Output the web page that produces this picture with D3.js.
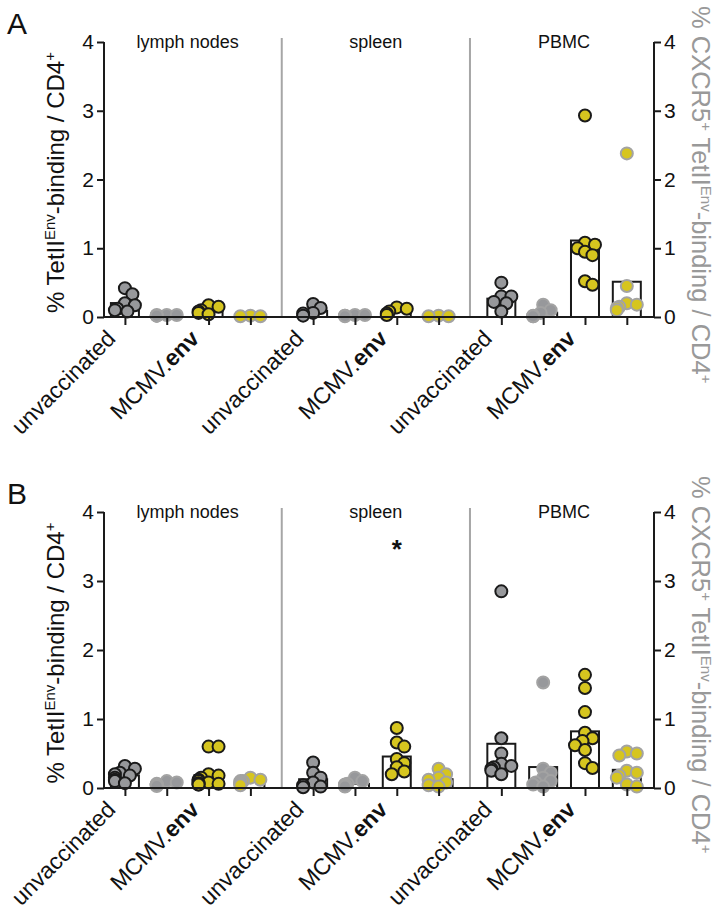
<!DOCTYPE html>
<html><head><meta charset="utf-8">
<script src="https://cdn.jsdelivr.net/npm/d3@7"></script>
<style>body{margin:0;background:#fff} text{font-family:"Liberation Sans",Arial,Helvetica,sans-serif}</style>
</head><body><svg id="c" width="714" height="913"></svg>
<script>
// ---------- data ----------
const tissues = ["lymph nodes", "spleen", "PBMC"];
const groupLabels = ["unvaccinated", "MCMV.env"];
const yTicks = [0, 1, 2, 3, 4];
const yDomain = [0, 4];

// Panel A  (order per tissue: unvaccinated, unvaccinated CXCR5+, MCMV.env, MCMV.env CXCR5+)
const A_ln_unvac   = [0.42, 0.33, 0.2, 0.17, 0.12, 0.1, 0.08];
const A_ln_unvacCX = [0.03, 0.02, 0.03, 0.02, 0.02, 0.03];
const A_ln_env     = [0.17, 0.15, 0.1, 0.06, 0.04, 0.08];
const A_ln_envCX   = [0.01, 0.02, 0.01];
const A_sp_unvac   = [0.19, 0.13, 0.06, 0.02, 0.05];
const A_sp_unvacCX = [0.03, 0.02, 0.01, 0.02, 0.03];
const A_sp_env     = [0.14, 0.12, 0.08, 0.05, 0.03];
const A_sp_envCX   = [0.01, 0.01, 0.02];
const A_pb_unvac   = [0.5, 0.3, 0.3, 0.22, 0.2, 0.08];
const A_pb_unvacCX = [0.18, 0.1, 0.06, 0.02, 0.01, 0.01];
const A_pb_env     = [2.93, 1.08, 1.05, 1.0, 0.95, 0.9, 0.52, 0.47];
const A_pb_envCX   = [2.38, 0.45, 0.2, 0.18, 0.15, 0.13, 0.1];

// Panel B
const B_ln_unvac   = [0.32, 0.28, 0.22, 0.2, 0.18, 0.15, 0.12, 0.1, 0.07];
const B_ln_unvacCX = [0.1, 0.08, 0.05, 0.04, 0.06, 0.03, 0.05, 0.04];
const B_ln_env     = [0.6, 0.6, 0.2, 0.18, 0.15, 0.12, 0.1, 0.08, 0.07, 0.06, 0.05, 0.05];
const B_ln_envCX   = [0.15, 0.12, 0.1, 0.08, 0.06, 0.05, 0.04, 0.1, 0.07];
const B_sp_unvac   = [0.37, 0.22, 0.15, 0.08, 0.04, 0.02, 0.01];
const B_sp_unvacCX = [0.15, 0.1, 0.06, 0.04, 0.03, 0.05, 0.02, 0.03];
const B_sp_env     = [0.87, 0.66, 0.6, 0.42, 0.36, 0.3, 0.24, 0.2];
const B_sp_envCX   = [0.28, 0.2, 0.15, 0.12, 0.08, 0.04, 0.02];
const B_pb_unvac   = [2.85, 0.72, 0.5, 0.35, 0.32, 0.3, 0.28, 0.25, 0.2];
const B_pb_unvacCX = [1.53, 0.28, 0.22, 0.15, 0.1, 0.08, 0.05, 0.02];
const B_pb_env     = [1.64, 1.45, 1.1, 0.8, 0.72, 0.68, 0.62, 0.55, 0.36, 0.29];
const B_pb_envCX   = [0.53, 0.5, 0.47, 0.25, 0.22, 0.15, 0.05, 0.02, 0.18];

const panelA = [[A_ln_unvac, A_ln_unvacCX, A_ln_env, A_ln_envCX],
                [A_sp_unvac, A_sp_unvacCX, A_sp_env, A_sp_envCX],
                [A_pb_unvac, A_pb_unvacCX, A_pb_env, A_pb_envCX]];
const panelB = [[B_ln_unvac, B_ln_unvacCX, B_ln_env, B_ln_envCX],
                [B_sp_unvac, B_sp_unvacCX, B_sp_env, B_sp_envCX],
                [B_pb_unvac, B_pb_unvacCX, B_pb_env, B_pb_envCX]];

// ---------- styles ----------
const GRAY = "#97989b", YEL = "#d6c51f", DARK = "#1a1a1a", LGRAY = "#a3a3a3";
const seriesStyle = [
  {fill: GRAY, stroke: DARK, axis: "L"},
  {fill: GRAY, stroke: LGRAY, axis: "R"},
  {fill: YEL,  stroke: DARK, axis: "L"},
  {fill: YEL,  stroke: LGRAY, axis: "R"}
];

const svg = d3.select("#c");
const xLeft = 104, xRight = 654;
const x = d3.scaleLinear().domain([-0.5, 12.65]).range([xLeft, xRight]);
const slot = (t, k) => t * 4.5 + k;
const R = 6;

function swarm(vals, cx, y) {
  const placed = [];
  const order = vals.map((v, i) => ({v, i})).sort((a, b) => b.v - a.v);
  const minD = 8;
  order.forEach(o => {
    const py = y(o.v);
    let best = 0;
    const cands = [0];
    for (let s = 2.5; s <= 12; s += 2.5) { cands.push(s, -s); }
    for (const c of cands) {
      best = c;
      if (placed.every(p => Math.hypot(p.x - (cx + c), p.y - py) >= minD)) break;
    }
    placed.push({x: cx + best, y: py, v: o.v});
  });
  return placed;
}

function drawPanel(data, top, bottom, letter, star) {
  const g = svg.append("g");
  const yL = d3.scaleLinear().domain(yDomain).range([bottom, top]);
  const yR = d3.scaleLinear().domain(yDomain).range([bottom, top]);

  // panel letter
  g.append("text").attr("x", 7).attr("y", top - 8).attr("font-size", 30).attr("fill", "#111").text(letter);

  // dividers
  [0, 1].forEach(t => {
    const xd = (x(slot(t, 3)) + x(slot(t + 1, 0))) / 2;
    g.append("line").attr("x1", xd).attr("x2", xd).attr("y1", top - 4).attr("y2", bottom)
      .attr("stroke", "#a6a6a6").attr("stroke-width", 2);
  });

  // section titles
  tissues.forEach((name, t) => {
    g.append("text").attr("x", x(slot(t, 1.5))).attr("y", top + 6)
      .attr("text-anchor", "middle").attr("font-size", 18).attr("fill", "#111").text(name);
  });

  // bars
  data.forEach((ser, t) => {
    ser.forEach((vals, k) => {
      const st = seriesStyle[k];
      const y = st.axis === "L" ? yL : yR;
      const cx = x(slot(t, k));
      const m = d3.mean(vals);
      g.append("rect").attr("x", cx - 14).attr("width", 28)
        .attr("y", y(m)).attr("height", bottom - y(m))
        .attr("fill", "#fff").attr("stroke", DARK).attr("stroke-width", 2);
    });
  });
  // dots
  data.forEach((ser, t) => {
    ser.forEach((vals, k) => {
      const st = seriesStyle[k];
      const y = st.axis === "L" ? yL : yR;
      const cx = x(slot(t, k));
      const pts = swarm(vals, cx, y);
      g.selectAll(null).data(pts).enter().append("circle")
        .attr("cx", d => d.x).attr("cy", d => d.y).attr("r", R)
        .attr("fill", st.fill).attr("stroke", st.stroke).attr("stroke-width", 2);
    });
  });

  // left axis
  const axL = g.append("g").attr("transform", `translate(${xLeft},0)`)
    .call(d3.axisLeft(yL).tickValues(yTicks).tickFormat(d3.format("d")).tickSize(7).tickPadding(3));
  axL.select(".domain").attr("stroke", DARK).attr("stroke-width", 2).attr("d", `M0,${top}V${bottom}`);
  axL.selectAll(".tick line").attr("stroke", DARK).attr("stroke-width", 2);
  axL.selectAll(".tick text").attr("font-size", 21).attr("fill", "#111").attr("font-family", "Liberation Sans, Arial, sans-serif");

  // right axis
  const axR = g.append("g").attr("transform", `translate(${xRight},0)`)
    .call(d3.axisRight(yR).tickValues(yTicks).tickFormat(d3.format("d")).tickSize(7).tickPadding(3));
  axR.select(".domain").attr("stroke", DARK).attr("stroke-width", 2).attr("d", `M0,${top}V${bottom}`);
  axR.selectAll(".tick line").attr("stroke", DARK).attr("stroke-width", 2);
  axR.selectAll(".tick text").attr("font-size", 21).attr("fill", "#111").attr("font-family", "Liberation Sans, Arial, sans-serif");

  // x axis
  const ticks = [];
  data.forEach((ser, t) => ser.forEach((v, k) => ticks.push(slot(t, k))));
  const axX = g.append("g").attr("transform", `translate(0,${bottom})`)
    .call(d3.axisBottom(x).tickValues(ticks).tickFormat("").tickSize(8));
  axX.select(".domain").attr("stroke", DARK).attr("stroke-width", 2).attr("d", `M${xLeft},0H${xRight}`);
  axX.selectAll(".tick line").attr("stroke", DARK).attr("stroke-width", 2);

  // x labels
  tissues.forEach((n, t) => {
    [0, 2].forEach((k, gi) => {
      const tx = x(slot(t, k)) - 8, ty = bottom + 23;
      const txt = g.append("text").attr("text-anchor", "end").attr("font-size", 23).attr("fill", "#111")
        .attr("transform", `translate(${tx},${ty}) rotate(-45)`);
      if (gi === 0) txt.text(groupLabels[0]);
      else {
        const parts = groupLabels[1].split(".");
        txt.append("tspan").text(parts[0] + ".");
        txt.append("tspan").attr("font-weight", "bold").text(parts[1]);
      }
    });
  });

  // y labels
  const cy = (top + bottom) / 2;
  const lt = g.append("text").attr("transform", `translate(64,${cy + 3}) rotate(-90)`)
    .attr("text-anchor", "middle").attr("font-size", 24).attr("fill", "#111");
  lt.append("tspan").text("% TetII");
  lt.append("tspan").attr("font-size", 15).attr("dy", -9).text("Env");
  lt.append("tspan").attr("dy", 9).text("-binding / CD4");
  lt.append("tspan").attr("font-size", 15).attr("dy", -9).text("+");

  const rt = g.append("text").attr("transform", `translate(692,${top - 36}) rotate(90)`)
    .attr("text-anchor", "start").attr("font-size", 25.5).attr("fill", "#999");
  rt.append("tspan").text("% CXCR5");
  rt.append("tspan").attr("font-size", 15).attr("dy", -9).text("+");
  rt.append("tspan").attr("dy", 9).text(" TetII");
  rt.append("tspan").attr("font-size", 15).attr("dy", -9).text("Env");
  rt.append("tspan").attr("dy", 9).text("-binding / CD4");
  rt.append("tspan").attr("font-size", 15).attr("dy", -9).text("+");

  if (star) {
    g.append("text").attr("x", x(slot(1, 2))).attr("y", yL(3.4) + 5)
      .attr("text-anchor", "middle").attr("font-size", 26).attr("font-weight", "bold").attr("fill", "#111").text("*");
  }
}

drawPanel(panelA, 42, 317, "A", false);
drawPanel(panelB, 512, 788, "B", true);
</script></body></html>
